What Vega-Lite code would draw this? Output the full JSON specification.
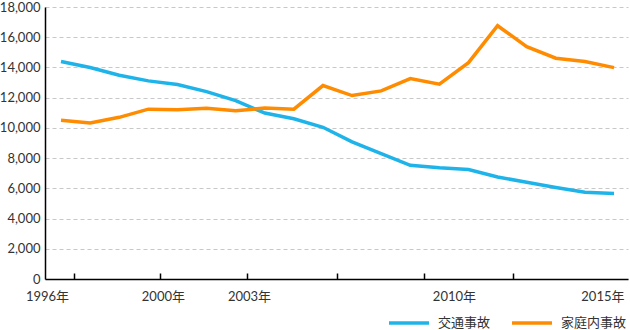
{
  "$schema": "https://vega.github.io/schema/vega-lite/v6.json",
  "width": 583,
  "height": 272,
  "autosize": {"type": "none"},
  "padding": {"left": 45, "top": 7, "right": 2, "bottom": 51},
  "background": "white",
  "config": {
    "view": {"stroke": null},
    "font": "Lato, 'Noto Sans CJK JP'",
    "axis": {"labelFont": "Lato, 'Noto Sans CJK JP'", "labelFontSize": 13, "labelColor": "#333333", "domainColor": "#000000", "domainWidth": 1.5},
    "axisY": {"labelOverlap": false}
  },
  "data": {"values": [
    {"year": 1996, "series": "交通事故", "value": 14390},
    {"year": 1997, "series": "交通事故", "value": 14000},
    {"year": 1998, "series": "交通事故", "value": 13480},
    {"year": 1999, "series": "交通事故", "value": 13110},
    {"year": 2000, "series": "交通事故", "value": 12870},
    {"year": 2001, "series": "交通事故", "value": 12400},
    {"year": 2002, "series": "交通事故", "value": 11800},
    {"year": 2003, "series": "交通事故", "value": 10980},
    {"year": 2004, "series": "交通事故", "value": 10600},
    {"year": 2005, "series": "交通事故", "value": 10040},
    {"year": 2006, "series": "交通事故", "value": 9080},
    {"year": 2007, "series": "交通事故", "value": 8300},
    {"year": 2008, "series": "交通事故", "value": 7520},
    {"year": 2009, "series": "交通事故", "value": 7360},
    {"year": 2010, "series": "交通事故", "value": 7250},
    {"year": 2011, "series": "交通事故", "value": 6750},
    {"year": 2012, "series": "交通事故", "value": 6400},
    {"year": 2013, "series": "交通事故", "value": 6060},
    {"year": 2014, "series": "交通事故", "value": 5740},
    {"year": 2015, "series": "交通事故", "value": 5660},
    {"year": 1996, "series": "家庭内事故", "value": 10500},
    {"year": 1997, "series": "家庭内事故", "value": 10320},
    {"year": 1998, "series": "家庭内事故", "value": 10700},
    {"year": 1999, "series": "家庭内事故", "value": 11240},
    {"year": 2000, "series": "家庭内事故", "value": 11200},
    {"year": 2001, "series": "家庭内事故", "value": 11300},
    {"year": 2002, "series": "家庭内事故", "value": 11130},
    {"year": 2003, "series": "家庭内事故", "value": 11310},
    {"year": 2004, "series": "家庭内事故", "value": 11240},
    {"year": 2005, "series": "家庭内事故", "value": 12800},
    {"year": 2006, "series": "家庭内事故", "value": 12140},
    {"year": 2007, "series": "家庭内事故", "value": 12450},
    {"year": 2008, "series": "家庭内事故", "value": 13260},
    {"year": 2009, "series": "家庭内事故", "value": 12890},
    {"year": 2010, "series": "家庭内事故", "value": 14320},
    {"year": 2011, "series": "家庭内事故", "value": 16760},
    {"year": 2012, "series": "家庭内事故", "value": 15380},
    {"year": 2013, "series": "家庭内事故", "value": 14610},
    {"year": 2014, "series": "家庭内事故", "value": 14390},
    {"year": 2015, "series": "家庭内事故", "value": 13990}
  ]},
  "resolve": {"axis": {"x": "independent"}},
  "layer": [
    {
      "mark": {"type": "line", "strokeWidth": 3.5, "strokeJoin": "miter"},
      "encoding": {
        "x": {
          "field": "year", "type": "quantitative",
          "scale": {"domain": [1995.45, 2015.48], "nice": false, "zero": false},
          "axis": {"orient": "bottom", "title": null, "labels": false, "grid": false,
                   "values": [1996.45, 1999.4, 2002.39, 2005.48, 2008.47, 2011.53],
                   "tickSize": -6, "tickColor": "#000000", "tickWidth": 1.5, "domain": true}
        },
        "y": {
          "field": "value", "type": "quantitative",
          "scale": {"domain": [0, 18000], "nice": false},
          "axis": {"title": null, "values": [0, 2000, 4000, 6000, 8000, 10000, 12000, 14000, 16000, 18000],
                   "format": ",d", "ticks": false, "labelPadding": 5, "labelOverlap": false, "labelBound": false,
                   "gridColor": "#c8c8c8", "gridDash": [4, 3], "gridWidth": 1}
        },
        "color": {
          "field": "series", "type": "nominal",
          "scale": {"domain": ["交通事故", "家庭内事故"], "range": ["#1fb4e9", "#ff8c00"]},
          "legend": {"title": null, "orient": "none", "direction": "horizontal",
                     "legendX": 342, "legendY": 294, "padding": 0,
                     "symbolType": "stroke", "symbolSize": 1600, "symbolStrokeWidth": 3.5,
                     "labelFontSize": 13, "labelColor": "#333333", "labelOffset": 7,
                     "columnPadding": 14, "labelFont": "Lato, 'Noto Sans CJK JP'"}
        }
      }
    },
    {
      "mark": {"type": "line", "opacity": 0},
      "encoding": {
        "x": {
          "field": "year", "type": "quantitative",
          "axis": {"orient": "bottom", "title": null, "grid": false, "ticks": false, "domain": false,
                   "values": [1995.52, 1999.5, 2002.46, 2009.5, 2014.6],
                   "labelPadding": 11, "labelFlush": false, "labelOverlap": false,
                   "labelExpr": "datum.value < 1997 ? '1996年' : datum.value < 2001 ? '2000年' : datum.value < 2005 ? '2003年' : datum.value < 2012 ? '2010年' : '2015年'"}
        },
        "y": {
          "field": "value", "type": "quantitative",
          "axis": {"title": null, "values": [0, 2000, 4000, 6000, 8000, 10000, 12000, 14000, 16000, 18000],
                   "format": ",d", "ticks": false, "labelPadding": 5, "labelOverlap": false, "labelBound": false,
                   "gridColor": "#c8c8c8", "gridDash": [4, 3], "gridWidth": 1}
        },
        "detail": {"field": "series"}
      }
    }
  ]
}
